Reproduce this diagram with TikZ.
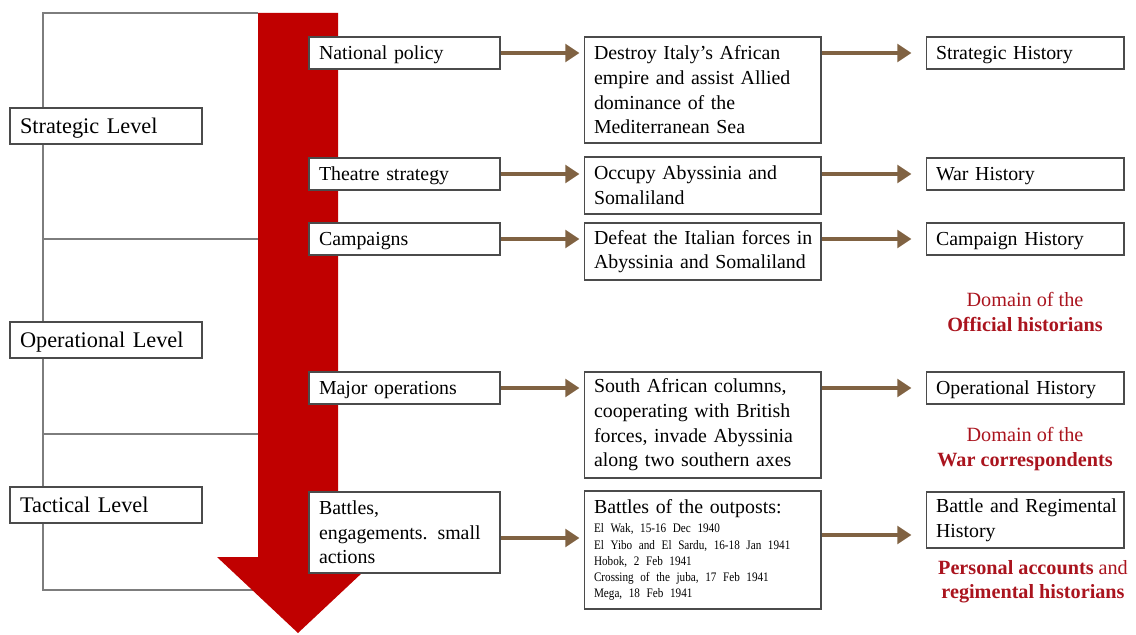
\documentclass[tikz,border=0pt]{standalone}
\usepackage{fontspec}
\setmainfont{Liberation Serif}
\newfontfamily\narrowserif[FakeStretch=0.86]{Liberation Serif}
\usetikzlibrary{arrows.meta}
\definecolor{arrred}{RGB}{192,0,0}
\definecolor{arrbrown}{RGB}{128,98,66}
\definecolor{linegray}{RGB}{125,125,125}
\definecolor{boxgray}{RGB}{75,75,75}
\definecolor{domred}{RGB}{170,20,30}
\tikzset{
  lvl/.style={draw=boxgray, line width=0.6pt, fill=white, inner xsep=0.2cm, inner ysep=0pt,
    text width=3.44cm, minimum height=0.72cm, align=left, text height=11pt, text depth=2.4pt,
    font=\fontsize{12.7}{15}\selectfont},
  bxa/.style={draw=boxgray, line width=0.6pt, fill=white, inner xsep=0.2cm, inner ysep=0pt,
    text width=3.42cm, align=left, font=\fontsize{11.3}{14}\selectfont},
  bxb/.style={draw=boxgray, line width=0.6pt, fill=white, inner xsep=0.2cm, inner ysep=0pt,
    text width=4.34cm, align=left, font=\fontsize{11.3}{14}\selectfont},
  bxc/.style={draw=boxgray, line width=0.6pt, fill=white, inner xsep=0.2cm, inner ysep=0pt,
    text width=3.56cm, align=left, font=\fontsize{11.3}{14}\selectfont},
  one/.style={minimum height=0.64cm, text height=10pt, text depth=2.2pt},
  harrow/.style={draw=arrbrown, line width=2.3pt, -{Triangle[length=8pt,width=10pt]}},
  domlbl/.style={text=domred, align=center, font=\fontsize{11.5}{13.7}\selectfont},
  bracket/.style={draw=linegray, line width=0.7pt}
}
\begin{document}
\begin{tikzpicture}[x=0.02cm,y=-0.02cm]
\useasboundingbox (0,0) rectangle (1136,635);
% bracket lines
\draw[bracket] (258,13) -- (43,13) -- (43,590) -- (298,590);
\draw[bracket] (43,239) -- (258,239);
\draw[bracket] (43,434) -- (258,434);
% red arrow
\fill[arrred] (258,13) -- (338,13) -- (338,557) -- (379,557) -- (298,633) -- (217,557) -- (258,557) -- cycle;
% level boxes
\node[lvl] (sl) at (106,126) {Strategic Level};
\node[lvl] (ol) at (106,340) {Operational Level};
\node[lvl] (tl) at (106,505) {Tactical Level};
% column 1
\node[bxa, one] (np) at (404.5,53) {National policy};
\node[bxa, one] (ts) at (404.5,174) {Theatre strategy};
\node[bxa, one] (cp) at (404.5,239) {Campaigns};
\node[bxa, one] (mo) at (404.5,388) {Major operations};
\node[bxa, minimum height=1.62cm] (ba) at (404.5,532.5) {Battles,\\\mbox{engagements. small}\\actions};
% column 2
\node[bxb, minimum height=2.12cm] (d1) at (702.5,90) {\mbox{Destroy Italy’s African}\\\mbox{empire and assist Allied}\\dominance of the\\Mediterranean Sea};
\node[bxb, minimum height=1.14cm] (d2) at (702.5,185.5) {Occupy Abyssinia and\\Somaliland};
\node[bxb, minimum height=1.14cm] (d3) at (702.5,251.5) {\mbox{Defeat the Italian forces in}\\\mbox{Abyssinia and Somaliland}};
\node[bxb, minimum height=2.12cm] (d4) at (702.5,425) {\mbox{South African columns,}\\\mbox{cooperating with British}\\\mbox{forces, invade Abyssinia}\\\mbox{along two southern axes}};
\node[bxb, minimum height=2.36cm] (d5) at (702.5,550) {\vspace*{3pt}Battles of the outposts:\par\vspace{-1pt}{\narrowserif\fontsize{7.4}{9.25}\selectfont \mbox{El Wak, 15-16 Dec 1940}\\\mbox{El Yibo and El Sardu, 16-18 Jan 1941}\\\mbox{Hobok, 2 Feb 1941}\\\mbox{Crossing of the juba, 17 Feb 1941}\\\mbox{Mega, 18 Feb 1941}\par}};
% column 3
\node[bxc, one] (h1) at (1025,53) {Strategic History};
\node[bxc, one] (h2) at (1025,174) {War History};
\node[bxc, one] (h3) at (1025,239) {Campaign History};
\node[bxc, one] (h4) at (1025,388) {Operational History};
\node[bxc, minimum height=1.12cm] (h5) at (1025,520) {\mbox{Battle and Regimental}\\History};
% arrows col1 -> col2
\draw[harrow, shorten >=2.3pt] (np.east) -- (np.east -| d1.west);
\draw[harrow, shorten >=2.3pt] (ts.east) -- (ts.east -| d2.west);
\draw[harrow, shorten >=2.3pt] (cp.east) -- (cp.east -| d3.west);
\draw[harrow, shorten >=2.3pt] (mo.east) -- (mo.east -| d4.west);
\draw[harrow, shorten >=2.3pt] ([yshift=-0.11cm]ba.east) -- ([yshift=-0.11cm]ba.east -| d5.west);
% arrows col2 -> col3
\draw[harrow, shorten >=8pt] (h1.west -| d1.east) -- (h1.west);
\draw[harrow, shorten >=8pt] (h2.west -| d2.east) -- (h2.west);
\draw[harrow, shorten >=8pt] (h3.west -| d3.east) -- (h3.west);
\draw[harrow, shorten >=8pt] (h4.west -| d4.east) -- (h4.west);
\draw[harrow, shorten >=8pt] ([yshift=-0.3cm]h5.west -| d5.east) -- ([yshift=-0.3cm]h5.west);
% domain labels
\node[domlbl] (dom1) at (1025,312) {Domain of the\\\textbf{Official historians}};
\node[domlbl] (dom2) at (1025,449) {Domain of the\\\textbf{War correspondents}};
\node[domlbl] (dom3) at (1033,582) {\textbf{Personal accounts} and\\\textbf{regimental historians}};
\end{tikzpicture}
\end{document}
